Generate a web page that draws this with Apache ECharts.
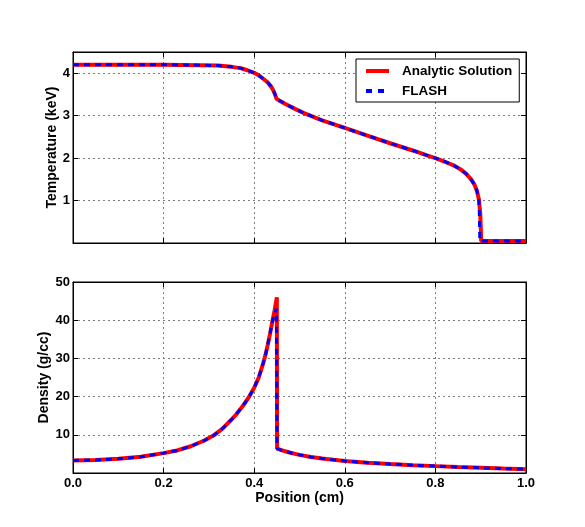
<!DOCTYPE html>
<html>
<head>
<meta charset="utf-8">
<script src="https://cdn.jsdelivr.net/npm/echarts@6/dist/echarts.min.js"></script>
<style>
html,body{margin:0;padding:0;background:#fff;}
#chart{width:585px;height:527px;}
</style>
</head>
<body>
<div id="chart"></div>
<script>
// ---- data ----
const xTicks = [0.0, 0.2, 0.4, 0.6, 0.8, 1.0];
const tempTicks = [1, 2, 3, 4];
const densTicks = [10, 20, 30, 40, 50];

const tempX_analytic = [0.00, 0.20, 0.28, 0.32, 0.35, 0.37, 0.385, 0.40, 0.41, 0.42, 0.43, 0.437, 0.442, 0.446, 0.449, 0.455, 0.47, 0.49, 0.51, 0.55, 0.60, 0.65, 0.70, 0.75, 0.78, 0.80, 0.82, 0.84, 0.855, 0.868, 0.878, 0.886, 0.892, 0.896, 0.899, 0.900, 0.901, 0.95, 1.00];
const temp_analytic  = [4.20, 4.20, 4.19, 4.18, 4.15, 4.12, 4.07, 4.01, 3.95, 3.87, 3.78, 3.69, 3.60, 3.50, 3.40, 3.36, 3.27, 3.16, 3.06, 2.89, 2.71, 2.53, 2.35, 2.18, 2.07, 2.00, 1.92, 1.83, 1.74, 1.63, 1.51, 1.38, 1.22, 1.02, 0.70, 0.40, 0.05, 0.05, 0.05];

const tempX_flash = [0.00, 0.20, 0.28, 0.32, 0.35, 0.37, 0.385, 0.40, 0.41, 0.42, 0.43, 0.437, 0.442, 0.446, 0.449, 0.455, 0.47, 0.49, 0.51, 0.55, 0.60, 0.65, 0.70, 0.75, 0.78, 0.80, 0.82, 0.84, 0.855, 0.868, 0.878, 0.886, 0.892, 0.896, 0.897, 0.8975, 0.898, 0.95, 1.00];
const temp_flash  = [4.20, 4.20, 4.19, 4.18, 4.15, 4.12, 4.07, 4.01, 3.95, 3.87, 3.78, 3.69, 3.60, 3.50, 3.40, 3.36, 3.27, 3.16, 3.06, 2.89, 2.71, 2.53, 2.35, 2.18, 2.07, 2.00, 1.92, 1.83, 1.74, 1.63, 1.51, 1.38, 1.22, 1.02, 0.70, 0.40, 0.05, 0.05, 0.05];

const densX_analytic = [0.00, 0.05, 0.10, 0.15, 0.20, 0.23, 0.26, 0.29, 0.31, 0.33, 0.35, 0.36, 0.37, 0.38, 0.39, 0.40, 0.41, 0.42, 0.425, 0.43, 0.435, 0.44, 0.445, 0.450, 0.4505, 0.46, 0.48, 0.50, 0.525, 0.55, 0.575, 0.60, 0.65, 0.70, 0.75, 0.80, 0.85, 0.90, 0.95, 1.00];
const dens_analytic  = [3.30, 3.40, 3.70, 4.25, 5.20, 5.90, 7.00, 8.50, 9.80, 11.6, 14.0, 15.3, 16.8, 18.4, 20.2, 22.3, 25.0, 28.8, 31.0, 33.6, 36.5, 39.6, 42.6, 46.0, 6.40, 6.00, 5.30, 4.75, 4.20, 3.80, 3.45, 3.15, 2.70, 2.35, 2.05, 1.80, 1.55, 1.35, 1.15, 1.00];

const densX_flash = [0.00, 0.05, 0.10, 0.15, 0.20, 0.23, 0.26, 0.29, 0.31, 0.33, 0.35, 0.36, 0.37, 0.38, 0.39, 0.40, 0.41, 0.42, 0.425, 0.43, 0.435, 0.44, 0.445, 0.449, 0.4505, 0.46, 0.48, 0.50, 0.525, 0.55, 0.575, 0.60, 0.65, 0.70, 0.75, 0.80, 0.85, 0.90, 0.95, 1.00];
const dens_flash  = [3.30, 3.40, 3.70, 4.25, 5.20, 5.90, 7.00, 8.50, 9.80, 11.6, 14.0, 15.3, 16.8, 18.4, 20.2, 22.3, 25.0, 28.8, 31.0, 33.6, 36.5, 39.6, 41.8, 43.0, 6.40, 6.00, 5.30, 4.75, 4.20, 3.80, 3.45, 3.15, 2.70, 2.35, 2.05, 1.80, 1.55, 1.35, 1.15, 1.00];

const seriesNames = ['Analytic Solution', 'FLASH'];
const axisNames = {x: 'Position (cm)', t: 'Temperature (keV)', d: 'Density (g/cc)'};

// ---- chart ----
const FONT = 'Liberation Sans, Arial, Helvetica, sans-serif';
const zip = (xs, ys) => xs.map((x, i) => [x, ys[i]]);

const split = {show: true, showMinLine: false, showMaxLine: false,
  lineStyle: {color: '#7f7f7f', type: [2, 3], width: 1}};
const tick = {show: true, inside: true, length: 5, lineStyle: {color: '#000', width: 1}};
const aline = {show: true, onZero: false, lineStyle: {color: '#000', width: 1}};
const lbl = {fontFamily: FONT, fontWeight: 'bold', fontSize: 13, color: '#000'};
const nameStyle = {fontFamily: FONT, fontWeight: 'bold', fontSize: 14, color: '#000'};

function xAx(grid, pos, labels) {
  const a = {type: 'value', gridIndex: grid, position: pos, min: 0, max: 1, interval: 0.2,
    axisLine: aline, axisTick: tick, splitLine: pos === 'bottom' ? split : {show: false},
    axisLabel: Object.assign({show: labels, margin: 4, formatter: v => (+v).toFixed(1)}, lbl)};
  if (labels) {
    a.name = axisNames.x; a.nameLocation = 'middle'; a.nameGap = 18;
    a.nameMoveOverlap = false;
    a.nameTextStyle = nameStyle;
  }
  return a;
}
function yAx(grid, pos, max, interval, ticks, name, gap) {
  const a = {type: 'value', gridIndex: grid, position: pos, min: 0, max: max, interval: interval,
    axisLine: aline, axisTick: tick, splitLine: pos === 'left' ? split : {show: false},
    axisLabel: Object.assign({show: pos === 'left', margin: 3,
      formatter: v => ticks.indexOf(+v) >= 0 ? String(v) : ''}, lbl)};
  if (name) {
    a.name = name; a.nameLocation = 'middle'; a.nameGap = gap; a.nameRotate = 90;
    a.nameMoveOverlap = false;
    a.nameTextStyle = nameStyle;
  }
  return a;
}

const red = {color: '#ff0000', width: 4, type: 'solid'};
const blue = {color: '#0000ff', width: 3, type: [6, 5]};

const option = {
  animation: false,
  backgroundColor: '#fff',
  grid: [
    {left: 73, top: 52, width: 453, height: 191, show: true, borderColor: '#000', borderWidth: 1, backgroundColor: '#fff'},
    {left: 73, top: 282, width: 453, height: 191, show: true, borderColor: '#000', borderWidth: 1, backgroundColor: '#fff'}
  ],
  xAxis: [xAx(0, 'bottom', false), xAx(0, 'top', false), xAx(1, 'bottom', true), xAx(1, 'top', false)],
  yAxis: [
    yAx(0, 'left', 4.5, 1, tempTicks, axisNames.t, 14),
    yAx(0, 'right', 4.5, 1, tempTicks, null),
    yAx(1, 'left', 50, 10, densTicks, axisNames.d, 22),
    yAx(1, 'right', 50, 10, densTicks, null)
  ],
  legend: {
    data: [
      {name: seriesNames[0], lineStyle: {color: '#ff0000', width: 4, type: 'solid'}},
      {name: seriesNames[1], lineStyle: {color: '#0000ff', width: 4, type: [6, 6]}}
    ],
    orient: 'vertical', left: 356, top: 59,
    itemWidth: 23, itemHeight: 14, itemGap: 6, padding: [5, 7, 4, 8],
    borderColor: '#000', borderWidth: 1, borderRadius: 0, backgroundColor: '#fff',
    itemStyle: {opacity: 0},
    textStyle: {fontFamily: FONT, fontWeight: 'bold', fontSize: 13.5, color: '#000', padding: [0, 0, 0, 8]}
  },
  series: [
    {name: seriesNames[0], type: 'line', xAxisIndex: 0, yAxisIndex: 0, data: zip(tempX_analytic, temp_analytic),
      symbol: 'none', lineStyle: red, itemStyle: {color: '#ff0000'}, z: 3},
    {name: seriesNames[1], type: 'line', xAxisIndex: 0, yAxisIndex: 0, data: zip(tempX_flash, temp_flash),
      symbol: 'none', lineStyle: blue, itemStyle: {color: '#0000ff'}, z: 4},
    {name: seriesNames[0], type: 'line', xAxisIndex: 2, yAxisIndex: 2, data: zip(densX_analytic, dens_analytic),
      symbol: 'none', lineStyle: red, itemStyle: {color: '#ff0000'}, z: 3},
    {name: seriesNames[1], type: 'line', xAxisIndex: 2, yAxisIndex: 2, data: zip(densX_flash, dens_flash),
      symbol: 'none', lineStyle: blue, itemStyle: {color: '#0000ff'}, z: 4}
  ]
};
const chart = echarts.init(document.getElementById('chart'), null, {renderer: 'canvas'});
chart.setOption(option);
</script>
</body>
</html>
